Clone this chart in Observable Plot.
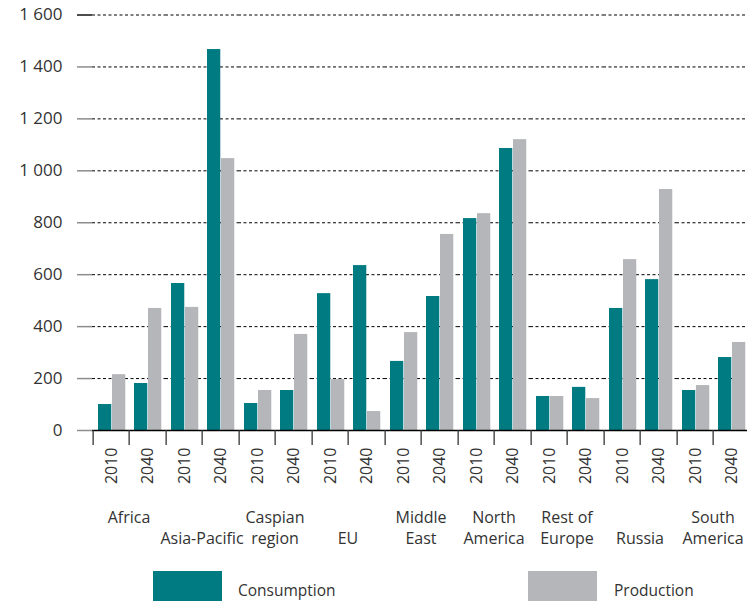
<!DOCTYPE html>
<html><head><meta charset="utf-8">
<script src="https://cdn.jsdelivr.net/npm/d3@7"></script>
<script src="https://cdn.jsdelivr.net/npm/@observablehq/plot@0.6"></script>
<style>
html,body{margin:0;padding:0;background:#fff;overflow:hidden;font-family:"Open Sans",sans-serif;}
#chart{position:relative;width:747px;height:555px;overflow:hidden;}
#chart svg{display:block;}
.legend{position:relative;width:747px;height:46px;}
.sw{position:absolute;top:16px;width:69px;height:30px;}
.lt{position:absolute;top:25px;font-size:15.5px;color:#333;line-height:20px;white-space:nowrap;}
</style></head><body>
<div id="chart"></div>
<div class="legend">
  <div class="sw" id="sw1" style="left:153px"></div><div class="lt" id="lt1" style="left:238px"></div>
  <div class="sw" id="sw2" style="left:528px"></div><div class="lt" id="lt2" style="left:614px"></div>
</div>
<script>
const regions = ["Africa","Asia-Pacific","Caspian region","EU","Middle East","North America","Rest of Europe","Russia","South America"];
const regionLabels = ["Africa","\nAsia-Pacific","Caspian\nregion","\nEU","Middle\nEast","North\nAmerica","Rest of\nEurope","\nRussia","South\nAmerica"];
const years = ["2010","2040"];
const seriesNames = ["Consumption","Production"];
const seriesColors = ["#007b82","#b5b6b9"];
const consumption2010 = [100, 566, 104, 527, 266, 816, 131, 470, 154];
const consumption2040 = [181, 1467, 154, 635, 516, 1086, 166, 581, 281];
const production2010 = [215, 474, 154, 196, 377, 835, 131, 658, 173];
const production2040 = [470, 1047, 370, 73, 755, 1120, 123, 928, 339];
const yTicks = [0,200,400,600,800,1000,1200,1400,1600];
const yTickLabels = ["0","200","400","600","800","1 000","1 200","1 400","1 600"];

const rows = [];
regions.forEach((r,i)=>{
  rows.push({region:r, year:"2010", series:"Consumption", value:consumption2010[i]});
  rows.push({region:r, year:"2040", series:"Consumption", value:consumption2040[i]});
  rows.push({region:r, year:"2010", series:"Production", value:production2010[i]});
  rows.push({region:r, year:"2040", series:"Production", value:production2040[i]});
});
const cons = rows.filter(d=>d.series==="Consumption");
const prod = rows.filter(d=>d.series==="Production");
const labelRows = regions.map((r,i)=>({region:r, label:regionLabels[i]}));
const yLab = d => yTickLabels[yTicks.indexOf(d)];

const H = 555;
const slot = (747 + 4 - 90) / 18;
const plot = Plot.plot({
  width: 747, height: H,
  marginLeft: 90, marginRight: -4, marginTop: 14.5, marginBottom: H - 430,
  style: {fontFamily: "Open Sans", fontSize: "16px", color: "#333", background: "white"},
  fx: {domain: regions, padding: 0, axis: null, label: null},
  x: {domain: years, padding: 0, axis: null, label: null},
  y: {domain: [0, 1600], axis: null, label: null},
  marks: [
    Plot.gridY(yTicks.filter(d=>d>0), {stroke:"#000", strokeOpacity:1, strokeWidth:1, strokeDasharray:"3,2.5"}),
    Plot.barY(cons, {fx:"region", x:"year", y:"value", fill:seriesColors[0], insetLeft:5, insetRight:slot-19}),
    Plot.barY(prod, {fx:"region", x:"year", y:"value", fill:seriesColors[1], insetLeft:19, insetRight:slot-33}),
    Plot.ruleY([0], {stroke:"#000", strokeWidth:1.5}),
    Plot.axisY(yTicks.filter(d=>d<1600), {label:null, tickSize:15, tickPadding:15, tickFormat:yLab, stroke:"#8c8c8c", strokeWidth:1.5, fontSize:17, fill:"#333"}),
    Plot.axisY([1600], {label:null, tickSize:15, tickPadding:15, tickFormat:yLab, stroke:"#111", strokeWidth:1.5, fontSize:17, fill:"#333"}),
    Plot.axisX(years, {label:null, tickSize:15, tickFormat:()=>"", dx:-slot/2, stroke:"#333", strokeWidth:1.3}),
    Plot.axisX(years, {label:null, tickSize:0, tickPadding:17, tickRotate:-90, fontSize:16, fill:"#333"}),
    Plot.text(labelRows, {fx:"region", text:"label", frameAnchor:"bottom", dy:77.5, lineAnchor:"top", lineHeight:1.31, fontSize:16, fill:"#333"})
  ]
});
document.getElementById("chart").appendChild(plot);
document.getElementById("sw1").style.background = seriesColors[0];
document.getElementById("sw2").style.background = seriesColors[1];
document.getElementById("lt1").textContent = seriesNames[0];
document.getElementById("lt2").textContent = seriesNames[1];
</script>
</body></html>
